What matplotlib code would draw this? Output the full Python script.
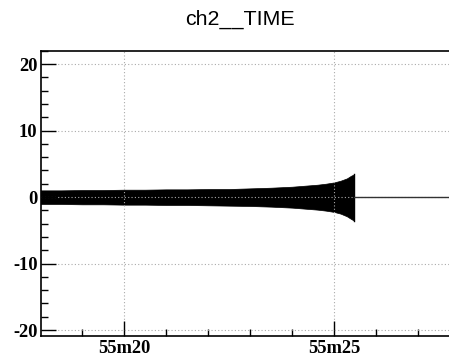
import matplotlib
matplotlib.use("Agg")
import matplotlib.pyplot as plt
from matplotlib.ticker import MultipleLocator, FuncFormatter

# Time in seconds after 55m00 ; envelope of the dense oscillating signal
env_t = [18.0, 18.5, 19.0, 19.5, 20.0, 20.5, 21.0, 21.5, 22.0, 22.5, 23.0, 23.5,
         24.0, 24.3, 24.6, 24.8, 25.0, 25.15, 25.3, 25.4, 25.47]
env_hi = [1.0, 1.0, 1.05, 1.05, 1.1, 1.1, 1.15, 1.15, 1.2, 1.2, 1.3, 1.4,
          1.55, 1.7, 1.85, 2.0, 2.2, 2.45, 2.8, 3.2, 3.4]
env_lo = [-1.05, -1.05, -1.1, -1.1, -1.15, -1.15, -1.2, -1.2, -1.25, -1.3, -1.35, -1.45,
          -1.6, -1.75, -1.9, -2.05, -2.25, -2.5, -2.9, -3.3, -3.55]
flat_t = [25.47, 28.0]
flat_v = [0.0, 0.0]

fig = plt.figure(figsize=(4.49, 3.58), dpi=100)
ax = fig.add_axes([41/449, 1-336/358, 1-41/449, (336-50.7)/358])

ax.fill_between(env_t, env_lo, env_hi, color="black", linewidth=0.5, edgecolor="black")
ax.plot([env_t[-1], env_t[-1]], [env_lo[-1], env_hi[-1]], color="black", lw=1)
ax.plot(flat_t, flat_v, color="#333333", lw=1)

ax.set_xlim(18.02, 27.73)
ax.set_ylim(-20.9, 22.0)

ax.xaxis.set_major_locator(MultipleLocator(5))
ax.xaxis.set_minor_locator(MultipleLocator(1))
ax.yaxis.set_major_locator(MultipleLocator(10))
ax.yaxis.set_minor_locator(MultipleLocator(2))
ax.xaxis.set_major_formatter(FuncFormatter(lambda v, p: f"55m{int(round(v)):02d}"))
ax.yaxis.set_major_formatter(FuncFormatter(lambda v, p: f"{int(round(v))}"))

ax.tick_params(which="both", direction="in", top=False, right=False, colors="black")
ax.tick_params(which="major", length=11, width=1)
ax.tick_params(axis="y", which="major", pad=2.5)
ax.tick_params(axis="x", which="major", pad=3)
ax.tick_params(which="minor", length=5, width=1)
for lab in ax.get_xticklabels() + ax.get_yticklabels():
    lab.set_fontfamily("Liberation Serif")
    lab.set_fontweight("bold")
    lab.set_fontsize(13.3)

ax.grid(True, which="major", color="#aaaaaa", linestyle=(0, (1, 2)), linewidth=0.8)
for s in ax.spines.values():
    s.set_linewidth(1.2)
ax.spines["right"].set_visible(False)

fig.text(239.5/449, 1-19/358, "ch2__TIME", ha="center", va="center",
         fontfamily="Liberation Sans", fontsize=15.4)

fig.savefig("out.png", dpi=100)
